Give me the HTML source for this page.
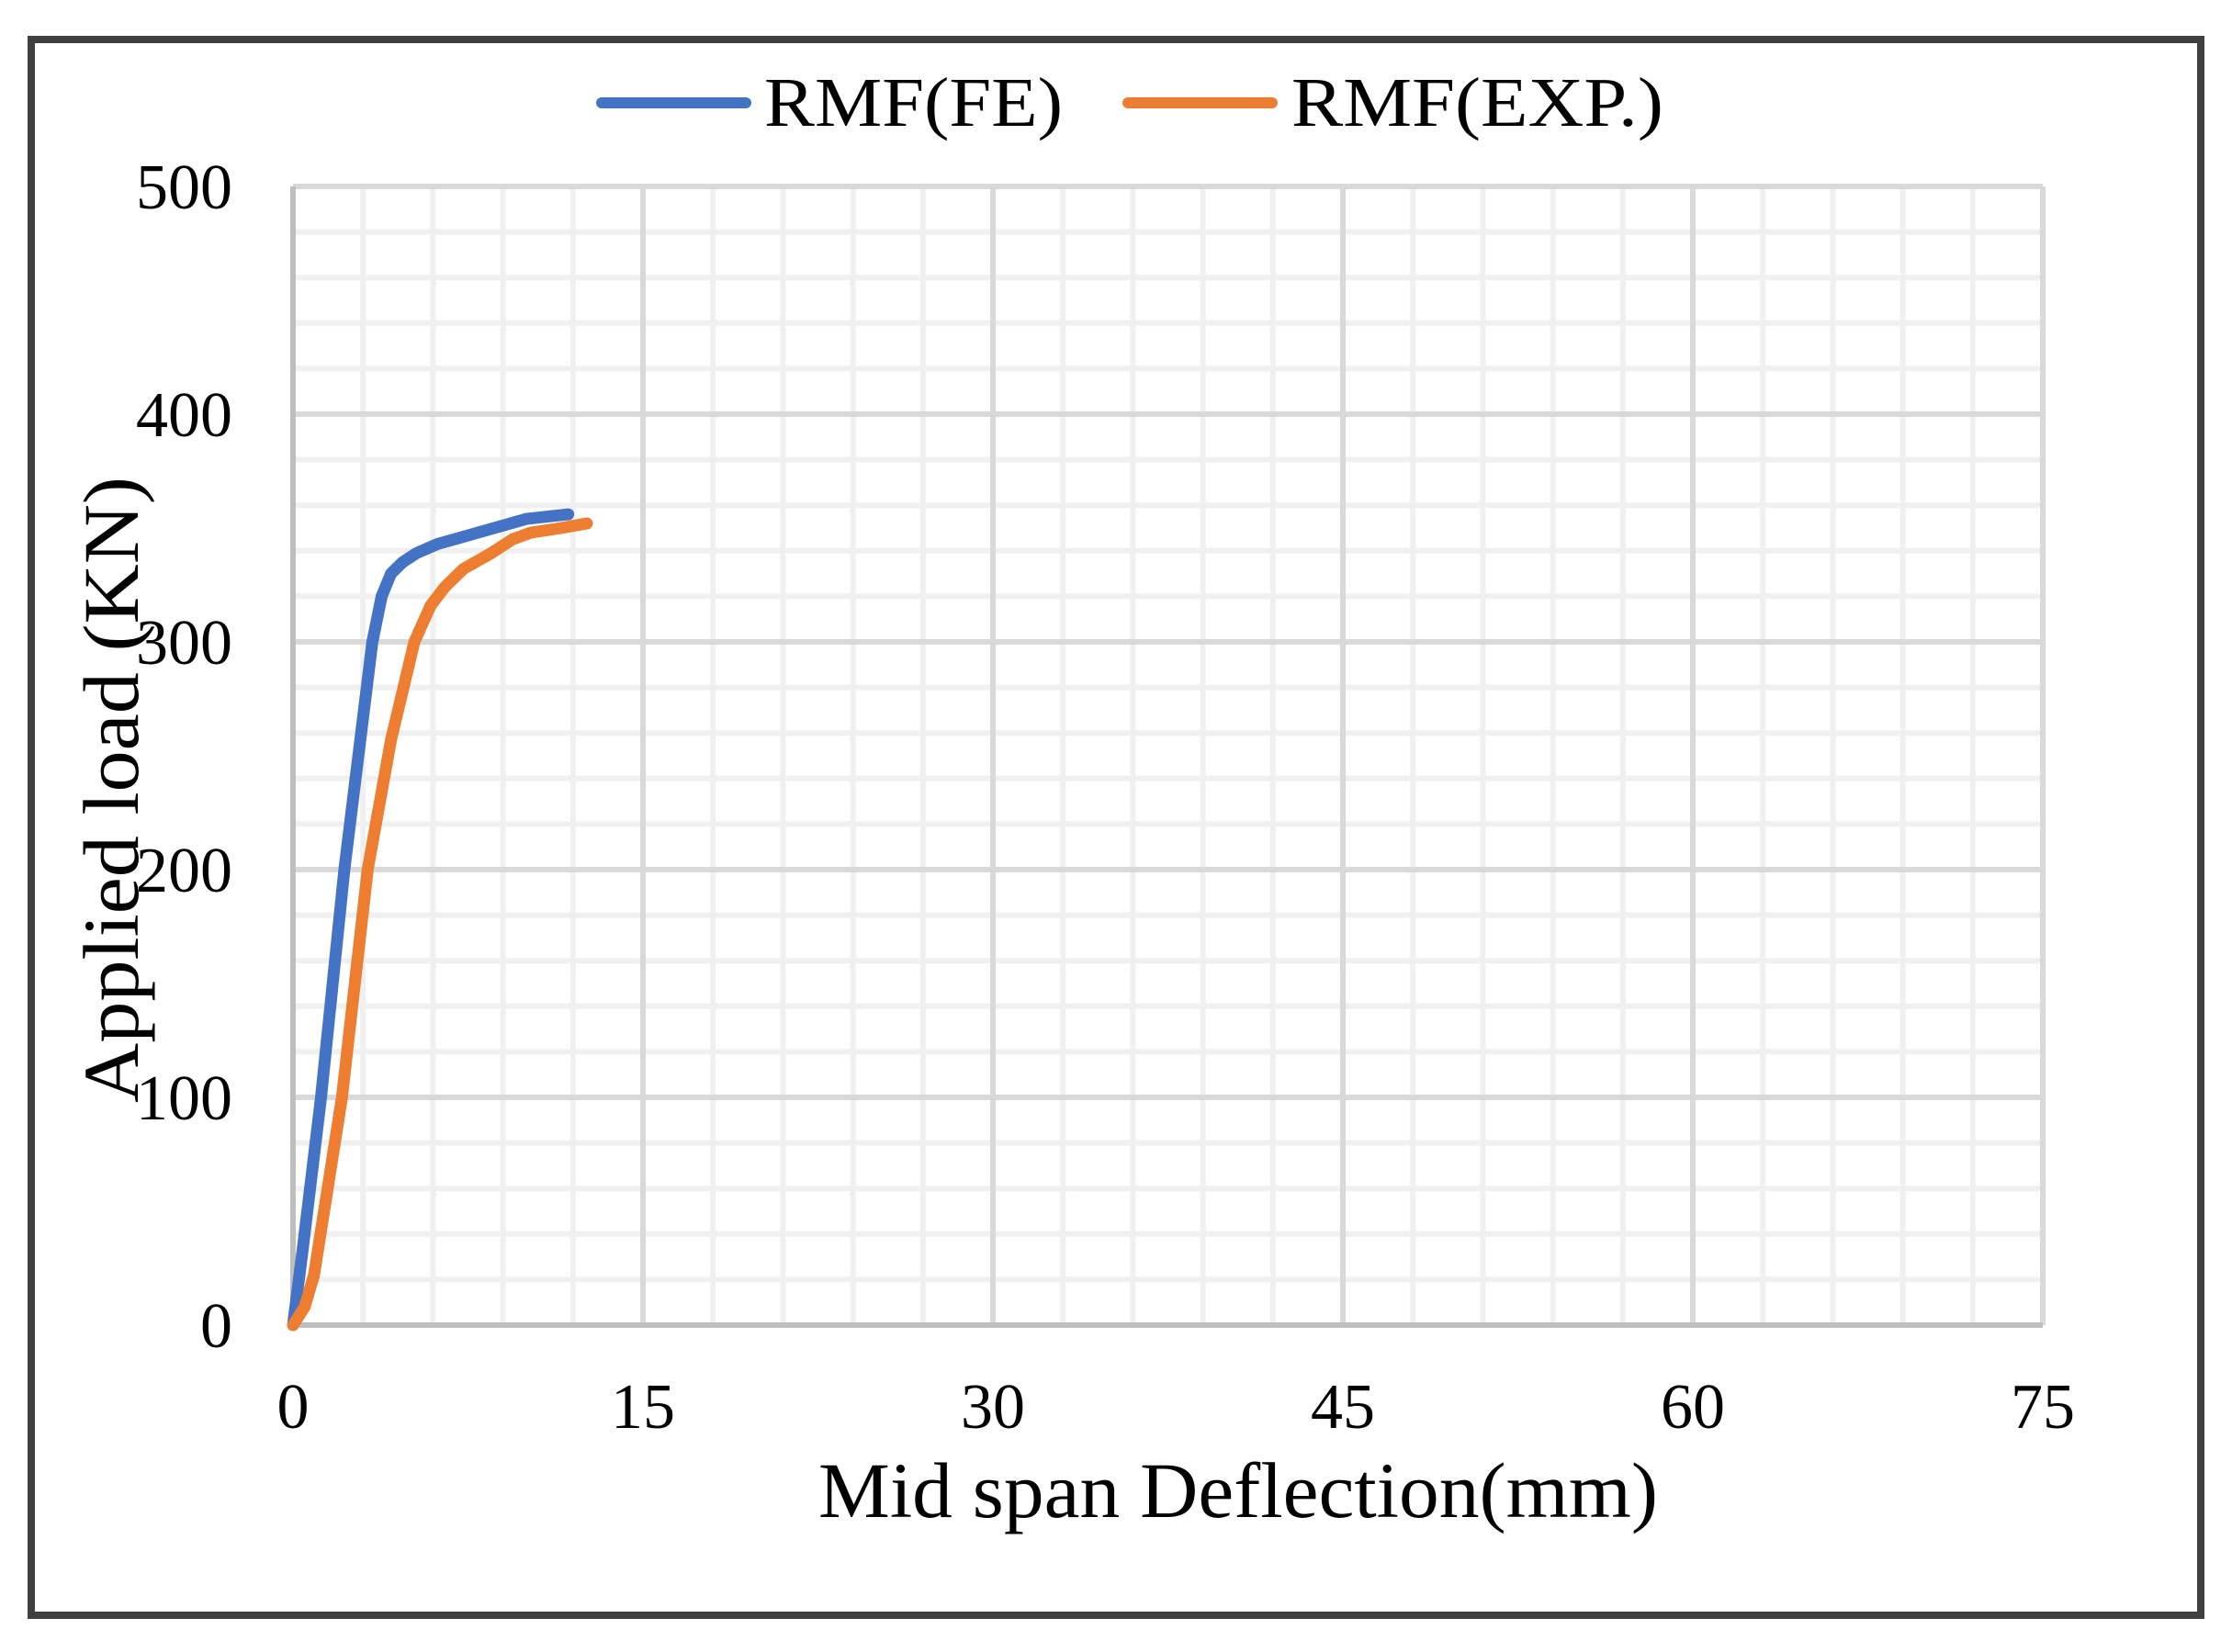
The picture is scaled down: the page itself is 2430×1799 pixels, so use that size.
<!DOCTYPE html>
<html><head><meta charset="utf-8"><style>
html,body{margin:0;padding:0;background:#fff}
svg{display:block}
text{font-family:"Liberation Serif",serif;fill:#000}
</style></head><body>
<svg id="chart" width="2430" height="1799" viewBox="0 0 2430 1799" xmlns="http://www.w3.org/2000/svg">
<rect x="34" y="43" width="2362" height="1716" fill="#fff" stroke="#404040" stroke-width="8"/>
<g id="grid"></g>
<g id="axes"></g>
<g id="series"></g>
<g>
<line x1="655" y1="112" x2="812" y2="112" stroke="#4472c4" stroke-width="12" stroke-linecap="round"/>
<text x="832" y="137" font-size="76" textLength="325" lengthAdjust="spacingAndGlyphs">RMF(FE)</text>
<line x1="1228" y1="112" x2="1385" y2="112" stroke="#ed7d31" stroke-width="12" stroke-linecap="round"/>
<text x="1406" y="137" font-size="76" textLength="405" lengthAdjust="spacingAndGlyphs">RMF(EXP.)</text>
</g>
<text x="1348" y="1652" font-size="86" text-anchor="middle" textLength="914" lengthAdjust="spacingAndGlyphs">Mid span Deflection(mm)</text>
<text transform="translate(150,860) rotate(-90)" x="0" y="0" font-size="86" text-anchor="middle" textLength="682" lengthAdjust="spacingAndGlyphs">Applied load (KN)</text>
</svg>
<script>
const xTicks = [0, 15, 30, 45, 60, 75];
const yTicks = [0, 100, 200, 300, 400, 500];
const feX = [0, 0.4, 1.2, 2.2, 3.4, 3.8, 4.2, 4.7, 5.3, 6.2, 7.6, 10, 11.8];
const feY = [0, 32, 100, 200, 300, 320, 330, 335, 339, 343, 347, 354, 356];
const expX = [0, 0.5, 0.9, 2.1, 3.2, 4.2, 5.2, 5.9, 6.5, 7.3, 8.5, 9.4, 10.2, 11.5, 12.6];
const expY = [0, 8, 22, 100, 200, 257, 300, 316, 324, 332, 339, 345, 348, 350, 352];

const L = 319, R = 2224, T = 203, B = 1443;
const xMax = 75, yMax = 500;
const sx = v => L + (v / xMax) * (R - L);
const sy = v => B - (v / yMax) * (B - T);
const NS = 'http://www.w3.org/2000/svg';
function mk(tag, attrs, parent) {
  const e = document.createElementNS(NS, tag);
  for (const k in attrs) e.setAttribute(k, attrs[k]);
  parent.appendChild(e);
  return e;
}
const grid = document.getElementById('grid');
const axes = document.getElementById('axes');
const series = document.getElementById('series');
for (let v = 0; v <= xMax; v += 3) {
  if (v % 15 === 0) continue;
  const l = mk('line', {x1: sx(v), x2: sx(v), y1: T, y2: B, stroke: '#f0f0f0', 'stroke-width': 6}, grid);
  
  
}
for (let v = 0; v <= yMax; v += 20) {
  if (v % 100 === 0) continue;
  const l = mk('line', {x1: L, x2: R, y1: sy(v), y2: sy(v), stroke: '#f0f0f0', 'stroke-width': 6}, grid);
  
  
}
xTicks.forEach(v => {
  const l = mk('line', {x1: sx(v), x2: sx(v), y1: T, y2: B, stroke: '#d9d9d9', 'stroke-width': 6}, grid);
  
  
  const t = mk('text', {x: sx(v), y: 1555, 'font-size': 70, 'text-anchor': 'middle'}, axes);
  t.textContent = v;
  
  
});
yTicks.forEach(v => {
  const l = mk('line', {x1: L, x2: R, y1: sy(v), y2: sy(v), stroke: '#d9d9d9', 'stroke-width': 6}, grid);
  
  
  const t = mk('text', {x: 253, y: sy(v) + 24, 'font-size': 70, 'text-anchor': 'end'}, axes);
  t.textContent = v;
  
  
});
const xa = mk('line', {x1: L, x2: R, y1: B, y2: B, stroke: '#bfbfbf', 'stroke-width': 6}, axes);


const ya = mk('line', {x1: L, x2: L, y1: T, y2: B, stroke: '#bfbfbf', 'stroke-width': 6}, axes);


function path(xs, ys) {
  return xs.map((x, i) => (i ? 'L' : 'M') + sx(x).toFixed(1) + ',' + sy(ys[i]).toFixed(1)).join(' ');
}
const pFe = mk('path', {d: path(feX, feY), fill: 'none', stroke: '#4472c4', 'stroke-width': 13, 'stroke-linejoin': 'round', 'stroke-linecap': 'round'}, series);


const pExp = mk('path', {d: path(expX, expY), fill: 'none', stroke: '#ed7d31', 'stroke-width': 13, 'stroke-linejoin': 'round', 'stroke-linecap': 'round'}, series);


</script>
</body></html>
